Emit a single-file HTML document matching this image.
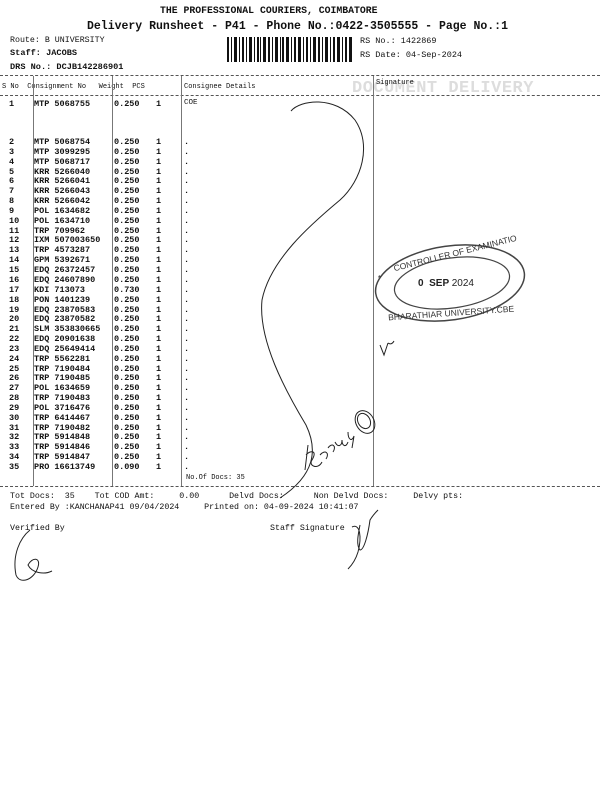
<!DOCTYPE html>
<html><head><meta charset="utf-8"><style>
*{margin:0;padding:0}
body{width:600px;height:800px;background:#fff;position:relative;overflow:hidden;font-family:"Liberation Mono",monospace;color:#111}
.t{position:absolute;white-space:pre;line-height:1}
.r{position:absolute;white-space:pre;font-size:8.5px;font-weight:bold;line-height:1;left:0}
.r span{position:absolute}
.dash{position:absolute;left:0;width:600px;border-top:1px dashed #555;height:0}
.v{position:absolute;width:0;border-left:1px solid #777}
</style></head><body>
<div class="t" style="left:160px;top:6px;font-size:9.8px;font-weight:bold">THE PROFESSIONAL COURIERS, COIMBATORE</div>
<div class="t" style="left:87px;top:21px;font-size:11.5px;font-weight:bold">Delivery Runsheet - P41 - Phone No.:0422-3505555 - Page No.:1</div>
<div class="t" style="left:10px;top:37px;font-size:8.3px">Route: B UNIVERSITY</div>
<div class="t" style="left:10px;top:49px;font-size:8.6px;font-weight:bold">Staff: JACOBS</div>
<div class="t" style="left:10px;top:63px;font-size:8.6px;font-weight:bold">DRS No.: DCJB142286901</div>
<div class="t" style="left:360px;top:37px;font-size:8.5px">RS No.: 1422869</div>
<div class="t" style="left:360px;top:51px;font-size:8.5px">RS Date: 04-Sep-2024</div>
<svg style="position:absolute;left:227px;top:37px" width="125" height="25">
<g fill="#111">
<rect x="0" y="0" width="2" height="25"/><rect x="4" y="0" width="1" height="25"/><rect x="7" y="0" width="3" height="25"/><rect x="12" y="0" width="1" height="25"/><rect x="15" y="0" width="2" height="25"/><rect x="19" y="0" width="1" height="25"/><rect x="22" y="0" width="3" height="25"/><rect x="27" y="0" width="1" height="25"/><rect x="30" y="0" width="2" height="25"/><rect x="33" y="0" width="1" height="25"/><rect x="36" y="0" width="3" height="25"/><rect x="41" y="0" width="2" height="25"/><rect x="45" y="0" width="1" height="25"/><rect x="48" y="0" width="3" height="25"/><rect x="53" y="0" width="1" height="25"/><rect x="55" y="0" width="2" height="25"/><rect x="59" y="0" width="3" height="25"/><rect x="64" y="0" width="1" height="25"/><rect x="67" y="0" width="2" height="25"/><rect x="71" y="0" width="3" height="25"/><rect x="76" y="0" width="1" height="25"/><rect x="79" y="0" width="2" height="25"/><rect x="83" y="0" width="1" height="25"/><rect x="86" y="0" width="3" height="25"/><rect x="91" y="0" width="2" height="25"/><rect x="95" y="0" width="1" height="25"/><rect x="98" y="0" width="3" height="25"/><rect x="103" y="0" width="1" height="25"/><rect x="106" y="0" width="2" height="25"/><rect x="110" y="0" width="3" height="25"/><rect x="115" y="0" width="1" height="25"/><rect x="118" y="0" width="2" height="25"/><rect x="122" y="0" width="3" height="25"/>
</g></svg>
<div class="dash" style="top:75px"></div>
<div class="dash" style="top:95px"></div>
<div class="dash" style="top:486px"></div>
<div class="t" style="left:352px;top:80px;font-size:17px;font-weight:bold;color:#ddd;letter-spacing:0.5px">DOCUMENT DELIVERY</div>
<div class="t" style="left:2px;top:84px;font-size:7px">S No  Consignment No   Weight  PCS</div>
<div class="t" style="left:184px;top:84px;font-size:7px">Consignee Details</div>
<div class="t" style="left:376px;top:80px;font-size:7px">Signature</div>
<div class="v" style="left:33px;top:76px;height:410px"></div>
<div class="v" style="left:112px;top:76px;height:410px"></div>
<div class="v" style="left:181px;top:76px;height:410px"></div>
<div class="v" style="left:373px;top:76px;height:410px"></div>
<div class="r" style="top:100px"><span style="left:9px">1</span><span style="left:34px">MTP 5068755</span><span style="left:114px">0.250</span><span style="left:156px">1</span><span style="left:184px;font-weight:normal;font-size:7.5px">COE</span></div>
<div id="rows"></div>
<div class="r" style="top:138px"><span style="left:9px">2</span><span style="left:34px">MTP 5068754</span><span style="left:114px">0.250</span><span style="left:156px">1</span><span style="left:184px">.</span></div>
<div class="r" style="top:148px"><span style="left:9px">3</span><span style="left:34px">MTP 3099295</span><span style="left:114px">0.250</span><span style="left:156px">1</span><span style="left:184px">.</span></div>
<div class="r" style="top:158px"><span style="left:9px">4</span><span style="left:34px">MTP 5068717</span><span style="left:114px">0.250</span><span style="left:156px">1</span><span style="left:184px">.</span></div>
<div class="r" style="top:168px"><span style="left:9px">5</span><span style="left:34px">KRR 5266040</span><span style="left:114px">0.250</span><span style="left:156px">1</span><span style="left:184px">.</span></div>
<div class="r" style="top:177px"><span style="left:9px">6</span><span style="left:34px">KRR 5266041</span><span style="left:114px">0.250</span><span style="left:156px">1</span><span style="left:184px">.</span></div>
<div class="r" style="top:187px"><span style="left:9px">7</span><span style="left:34px">KRR 5266043</span><span style="left:114px">0.250</span><span style="left:156px">1</span><span style="left:184px">.</span></div>
<div class="r" style="top:197px"><span style="left:9px">8</span><span style="left:34px">KRR 5266042</span><span style="left:114px">0.250</span><span style="left:156px">1</span><span style="left:184px">.</span></div>
<div class="r" style="top:207px"><span style="left:9px">9</span><span style="left:34px">POL 1634682</span><span style="left:114px">0.250</span><span style="left:156px">1</span><span style="left:184px">.</span></div>
<div class="r" style="top:217px"><span style="left:9px">10</span><span style="left:34px">POL 1634710</span><span style="left:114px">0.250</span><span style="left:156px">1</span><span style="left:184px">.</span></div>
<div class="r" style="top:227px"><span style="left:9px">11</span><span style="left:34px">TRP 709962</span><span style="left:114px">0.250</span><span style="left:156px">1</span><span style="left:184px">.</span></div>
<div class="r" style="top:236px"><span style="left:9px">12</span><span style="left:34px">IXM 507003650</span><span style="left:114px">0.250</span><span style="left:156px">1</span><span style="left:184px">.</span></div>
<div class="r" style="top:246px"><span style="left:9px">13</span><span style="left:34px">TRP 4573287</span><span style="left:114px">0.250</span><span style="left:156px">1</span><span style="left:184px">.</span></div>
<div class="r" style="top:256px"><span style="left:9px">14</span><span style="left:34px">GPM 5392671</span><span style="left:114px">0.250</span><span style="left:156px">1</span><span style="left:184px">.</span></div>
<div class="r" style="top:266px"><span style="left:9px">15</span><span style="left:34px">EDQ 26372457</span><span style="left:114px">0.250</span><span style="left:156px">1</span><span style="left:184px">.</span></div>
<div class="r" style="top:276px"><span style="left:9px">16</span><span style="left:34px">EDQ 24607890</span><span style="left:114px">0.250</span><span style="left:156px">1</span><span style="left:184px">.</span></div>
<div class="r" style="top:286px"><span style="left:9px">17</span><span style="left:34px">KDI 713073</span><span style="left:114px">0.730</span><span style="left:156px">1</span><span style="left:184px">.</span></div>
<div class="r" style="top:296px"><span style="left:9px">18</span><span style="left:34px">PON 1401239</span><span style="left:114px">0.250</span><span style="left:156px">1</span><span style="left:184px">.</span></div>
<div class="r" style="top:306px"><span style="left:9px">19</span><span style="left:34px">EDQ 23870583</span><span style="left:114px">0.250</span><span style="left:156px">1</span><span style="left:184px">.</span></div>
<div class="r" style="top:315px"><span style="left:9px">20</span><span style="left:34px">EDQ 23870582</span><span style="left:114px">0.250</span><span style="left:156px">1</span><span style="left:184px">.</span></div>
<div class="r" style="top:325px"><span style="left:9px">21</span><span style="left:34px">SLM 353830665</span><span style="left:114px">0.250</span><span style="left:156px">1</span><span style="left:184px">.</span></div>
<div class="r" style="top:335px"><span style="left:9px">22</span><span style="left:34px">EDQ 20901638</span><span style="left:114px">0.250</span><span style="left:156px">1</span><span style="left:184px">.</span></div>
<div class="r" style="top:345px"><span style="left:9px">23</span><span style="left:34px">EDQ 25649414</span><span style="left:114px">0.250</span><span style="left:156px">1</span><span style="left:184px">.</span></div>
<div class="r" style="top:355px"><span style="left:9px">24</span><span style="left:34px">TRP 5562281</span><span style="left:114px">0.250</span><span style="left:156px">1</span><span style="left:184px">.</span></div>
<div class="r" style="top:365px"><span style="left:9px">25</span><span style="left:34px">TRP 7190484</span><span style="left:114px">0.250</span><span style="left:156px">1</span><span style="left:184px">.</span></div>
<div class="r" style="top:374px"><span style="left:9px">26</span><span style="left:34px">TRP 7190485</span><span style="left:114px">0.250</span><span style="left:156px">1</span><span style="left:184px">.</span></div>
<div class="r" style="top:384px"><span style="left:9px">27</span><span style="left:34px">POL 1634659</span><span style="left:114px">0.250</span><span style="left:156px">1</span><span style="left:184px">.</span></div>
<div class="r" style="top:394px"><span style="left:9px">28</span><span style="left:34px">TRP 7190483</span><span style="left:114px">0.250</span><span style="left:156px">1</span><span style="left:184px">.</span></div>
<div class="r" style="top:404px"><span style="left:9px">29</span><span style="left:34px">POL 3716476</span><span style="left:114px">0.250</span><span style="left:156px">1</span><span style="left:184px">.</span></div>
<div class="r" style="top:414px"><span style="left:9px">30</span><span style="left:34px">TRP 6414467</span><span style="left:114px">0.250</span><span style="left:156px">1</span><span style="left:184px">.</span></div>
<div class="r" style="top:424px"><span style="left:9px">31</span><span style="left:34px">TRP 7190482</span><span style="left:114px">0.250</span><span style="left:156px">1</span><span style="left:184px">.</span></div>
<div class="r" style="top:433px"><span style="left:9px">32</span><span style="left:34px">TRP 5914848</span><span style="left:114px">0.250</span><span style="left:156px">1</span><span style="left:184px">.</span></div>
<div class="r" style="top:443px"><span style="left:9px">33</span><span style="left:34px">TRP 5914846</span><span style="left:114px">0.250</span><span style="left:156px">1</span><span style="left:184px">.</span></div>
<div class="r" style="top:453px"><span style="left:9px">34</span><span style="left:34px">TRP 5914847</span><span style="left:114px">0.250</span><span style="left:156px">1</span><span style="left:184px">.</span></div>
<div class="r" style="top:463px"><span style="left:9px">35</span><span style="left:34px">PRO 16613749</span><span style="left:114px">0.090</span><span style="left:156px">1</span><span style="left:184px">.</span></div>
<div class="t" style="left:186px;top:475px;font-size:7px">No.Of Docs: 35</div>
<div class="t" style="left:10px;top:493px;font-size:8.3px">Tot Docs:  35    Tot COD Amt:     0.00      Delvd Docs:      Non Delvd Docs:     Delvy pts:</div>
<div class="t" style="left:10px;top:504px;font-size:8.3px">Entered By :KANCHANAP41 09/04/2024     Printed on: 04-09-2024 10:41:07</div>
<div class="t" style="left:10px;top:525px;font-size:8.3px">Verified By</div>
<div class="t" style="left:270px;top:525px;font-size:8.3px">Staff Signature</div>
<svg style="position:absolute;left:0;top:0" width="600" height="800" fill="none" stroke="#222" stroke-width="1">
<path d="M291 111 C300 100 335 95 355 120 C372 145 362 180 340 200 C310 225 270 260 262 300 C258 340 285 390 306 425 C318 450 315 475 280 498"/>
<path d="M305 470 L308 445 M306 455 C310 450 318 450 312 460 C308 466 318 470 322 462" />
<path d="M320 455 c5-6 10-2 6 4 M328 448 c4-6 9-2 5 4 M335 442 c3 6 7 4 7-2 c0 6 4 8 6 2 M348 432 c0 8 4 10 6 4 l-2 12" />
<ellipse cx="365" cy="422" rx="9" ry="12" transform="rotate(-30 365 422)"/>
<ellipse cx="364" cy="421" rx="6" ry="8" transform="rotate(-30 364 421)"/>
<path d="M380 345 l4 10 l4-12 M388 343 c3 2 5 0 6-2"/>
<path d="M30 530 c-10 8-18 25-14 45 c4 10 18 5 22-8 c3-10-6-10-10-2 c4 8 16 10 24 6"/>
<path d="M352 527 c8-4 10 10 6 25 c-3 10-8 15-10 17 M360 525 c-2 10-4 20 0 25 c4 0 8-15 10-30 c3-5 6-8 8-10"/>
<g stroke="#444">
<ellipse cx="450" cy="283" rx="75" ry="37" transform="rotate(-8 450 283)" stroke-width="1.5"/>
<ellipse cx="452" cy="283" rx="58" ry="25" transform="rotate(-8 452 283)" stroke-width="1.2"/>
</g>
</svg>
<div class="t" style="left:392px;top:249px;font-size:8.5px;color:#333;transform:rotate(-14deg);font-family:'Liberation Sans',sans-serif">CONTROLLER OF EXAMINATIO</div>
<div class="t" style="left:418px;top:279px;font-size:10px;color:#222;font-family:'Liberation Sans',sans-serif;font-weight:bold">0 &nbsp;SEP <span style="font-weight:normal">2024</span></div>
<div class="t" style="left:388px;top:309px;font-size:8.5px;color:#333;transform:rotate(-4deg);font-family:'Liberation Sans',sans-serif">BHARATHIAR UNIVERSITY.CBE</div>
<div class="t" style="left:377px;top:276px;font-size:8px;color:#333">*</div>
</body></html>
